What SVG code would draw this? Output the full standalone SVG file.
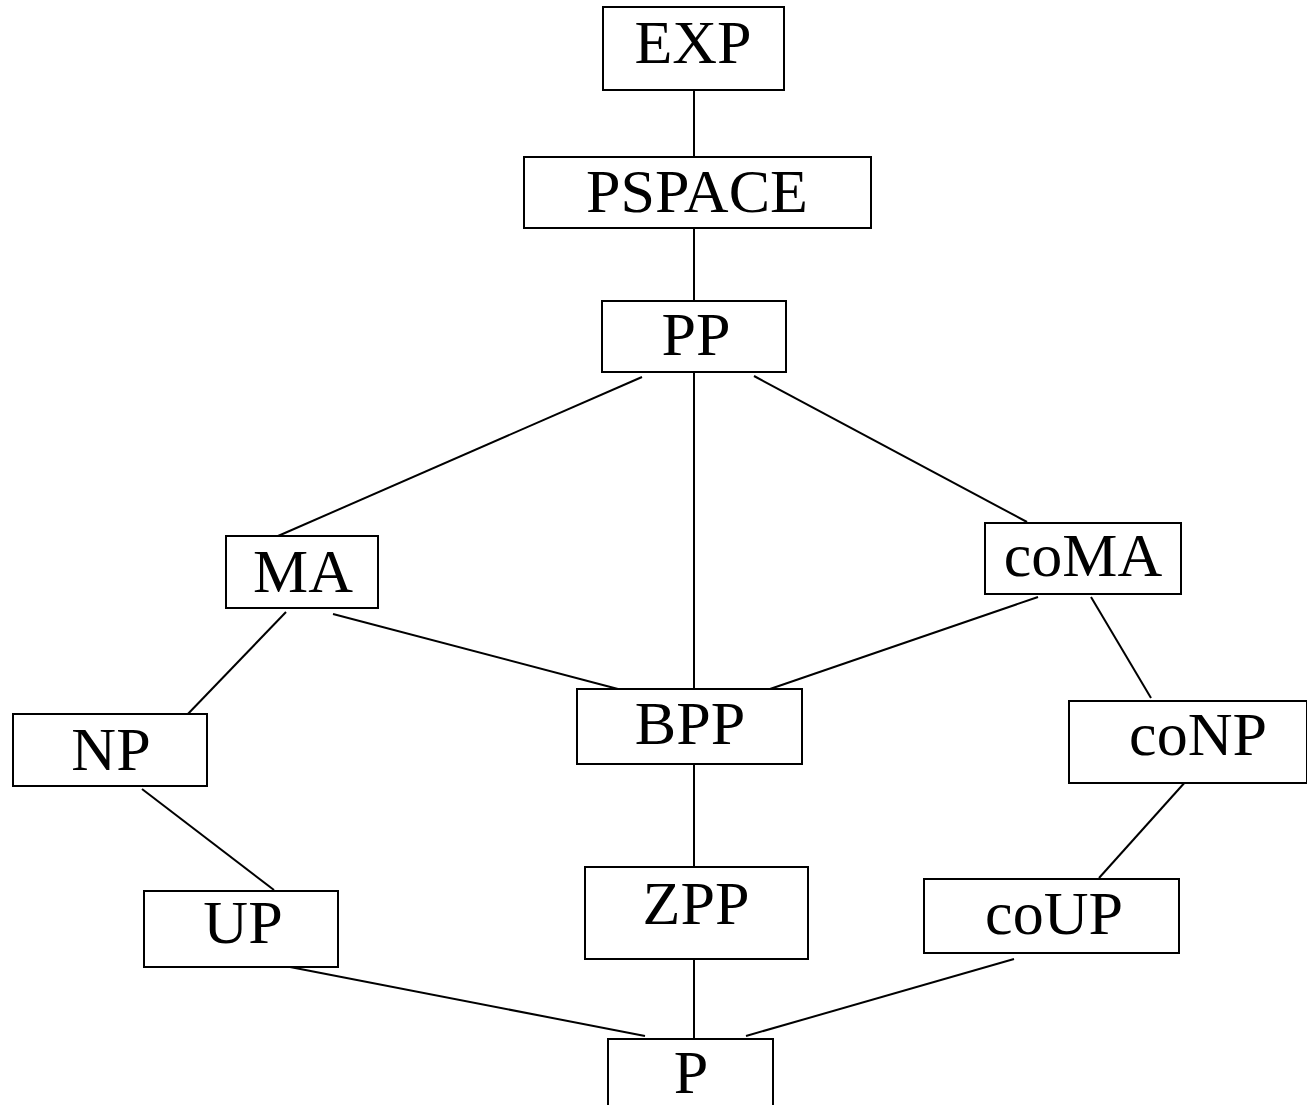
<svg xmlns="http://www.w3.org/2000/svg" width="1307" height="1105" viewBox="0 0 1307 1105">
<style>
rect{fill:#fff;stroke:#000;stroke-width:2}
line{stroke:#000;stroke-width:2}
text{font-family:"Liberation Serif","Times New Roman",serif;font-size:62px;fill:#000;text-anchor:middle}
</style>
<rect x="0" y="0" width="1307" height="1105" style="stroke:none"/>
<g id="connectors">
<line x1="694" y1="90" x2="694" y2="157"/>
<line x1="694" y1="228" x2="694" y2="301"/>
<line x1="642" y1="377" x2="278" y2="536"/>
<line x1="694" y1="372" x2="694" y2="689"/>
<line x1="754" y1="376" x2="1027" y2="522"/>
<line x1="286" y1="612" x2="185" y2="717"/>
<line x1="333" y1="614" x2="618" y2="689"/>
<line x1="1038" y1="597" x2="770" y2="689"/>
<line x1="1091" y1="597" x2="1151" y2="698"/>
<line x1="142" y1="789" x2="274" y2="890"/>
<line x1="694" y1="764" x2="694" y2="867"/>
<line x1="1187" y1="780" x2="1099" y2="878"/>
<line x1="290" y1="967" x2="645" y2="1036"/>
<line x1="694" y1="959" x2="694" y2="1039"/>
<line x1="1014" y1="959" x2="746" y2="1036"/>
</g>
<g id="EXP"><rect x="603" y="7" width="181" height="83"/><text x="693" y="63">EXP</text></g>
<g id="PSPACE"><rect x="524" y="157" width="347" height="71"/><text x="697" y="212">PSPACE</text></g>
<g id="PP"><rect x="602" y="301" width="184" height="71"/><text x="696" y="355">PP</text></g>
<g id="MA"><rect x="226" y="536" width="152" height="72"/><text x="303" y="592">MA</text></g>
<g id="coMA"><rect x="985" y="523" width="196" height="71"/><text x="1083" y="576">coMA</text></g>
<g id="NP"><rect x="13" y="714" width="194" height="72"/><text x="111" y="770">NP</text></g>
<g id="BPP"><rect x="577" y="689" width="225" height="75"/><text x="690" y="744">BPP</text></g>
<g id="coNP"><rect x="1069" y="701" width="238" height="82"/><text x="1198" y="755">coNP</text></g>
<g id="UP"><rect x="144" y="891" width="194" height="76"/><text x="243" y="943">UP</text></g>
<g id="ZPP"><rect x="585" y="867" width="223" height="92"/><text x="696" y="924">ZPP</text></g>
<g id="coUP"><rect x="924" y="879" width="255" height="74"/><text x="1054" y="934">coUP</text></g>
<g id="P"><rect x="608" y="1039" width="165" height="80"/><text x="691" y="1093">P</text></g>
</svg>
